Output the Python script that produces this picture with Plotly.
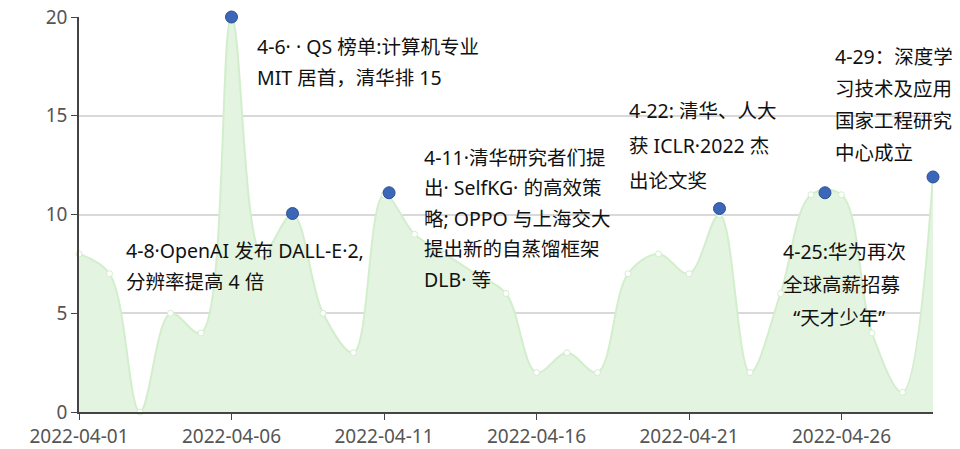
import pandas as pd
import plotly.graph_objects as go

# ---- data ----
dates = pd.date_range("2022-04-01", "2022-04-29", freq="D").strftime("%Y-%m-%d").tolist()
counts = [8, 7, 0, 5, 4, 20, 8, 10, 5, 3, 11, 9, 8, 7, 6,
          2, 3, 2, 7, 8, 7, 10, 2, 6, 11, 11, 4, 1, 12]

event_dates = ["2022-04-06", "2022-04-08", "2022-04-11 04:00", "2022-04-22",
               "2022-04-25 11:00", "2022-04-29"]
event_values = [20, 10.05, 11.1, 10.3, 11.1, 11.9]

tick_labels = ["2022-04-01", "2022-04-06", "2022-04-11", "2022-04-16",
               "2022-04-21", "2022-04-26"]
y_ticks = [0, 5, 10, 15, 20]

notes = [
    ["4-6·\u00a0·\u00a0QS 榜单:计算机专业", "MIT 居首，清华排 15"],
    ["4-8·OpenAI 发布 DALL-E·2,", "分辨率提高 4 倍"],
    ["4-11·清华研究者们提", "出·\u00a0SelfKG·\u00a0的高效策", "略; OPPO 与上海交大",
     "提出新的自蒸馏框架", "DLB·\u00a0等"],
    ["4-22: 清华、人大", "获 ICLR·2022 杰", "出论文奖"],
    ["4-25:华为再次", "全球高薪招募", "\u00a0\u00a0“天才少年”"],
    ["4-29：深度学", "习技术及应用", "国家工程研究", "中心成立"],
]

# ---- layout (pixels) ----
W, H = 960, 449
L, R, T, B = 79, 27, 17, 37
PW, PH = W - L - R, H - T - B
# (left px, first line centre px, line spacing px)
note_pos = [(255, 47, 30), (124, 250, 31), (422, 157, 30.5),
            (627, 110, 35), (781, 251, 33), (833, 57, 32)]

FILL = "#e3f4e0"
LINE = "#d3eecd"
BLUE = "#3c67b9"
NOTE_FONT = "Noto Sans, Noto Sans CJK SC, sans-serif"

fig = go.Figure()
fig.add_trace(go.Scatter(
    x=dates, y=counts,
    mode="lines+markers",
    line=dict(color=LINE, width=2, shape="spline", smoothing=1),
    fill="tozeroy",
    fillcolor=FILL,
    marker=dict(size=6, color="white", line=dict(color=LINE, width=1)),
    showlegend=False,
    cliponaxis=False,
))
fig.add_trace(go.Scatter(
    x=event_dates, y=event_values,
    mode="markers",
    marker=dict(size=12, color=BLUE, line=dict(color="#2c4f96", width=1)),
    showlegend=False,
    cliponaxis=False,
))

for lines, (px, py, dy) in zip(notes, note_pos):
    for i, txt in enumerate(lines):
        fig.add_annotation(
            xref="paper", yref="paper",
            x=(px - L) / PW, y=(H - B - (py + i * dy)) / PH,
            xanchor="left", yanchor="middle",
            text=txt, showarrow=False,
            font=dict(family=NOTE_FONT, size=19.5, color="#111"),
        )

fig.update_layout(
    width=W, height=H,
    paper_bgcolor="white",
    plot_bgcolor="white",
    margin=dict(l=L, r=R, t=T, b=B, autoexpand=False),
    font=dict(family="Noto Sans, sans-serif", size=18, color="#555"),
)
fig.update_xaxes(
    type="date",
    range=[dates[0], dates[-1]],
    tickvals=tick_labels, ticktext=tick_labels,
    ticks="outside", ticklen=6, tickcolor="#444",
    showline=True, linecolor="#444", linewidth=1.5,
    showgrid=False, zeroline=False, automargin=False,
    tickfont=dict(size=19, color="#555"),
)
fig.update_yaxes(
    range=[0, 20],
    tickvals=y_ticks,
    ticks="outside", ticklen=6, tickcolor="#444",
    showline=True, linecolor="#444", linewidth=1.5,
    gridcolor="#d9d9d9", gridwidth=1.5,
    zeroline=False, automargin=False,
    tickfont=dict(size=19, color="#555"),
)

# the page body has a default 8px margin; drop it so the figure sits at 0,0
fig.write_html("out.html", config={"displayModeBar": False},
               post_script="document.body.style.margin='0';")
